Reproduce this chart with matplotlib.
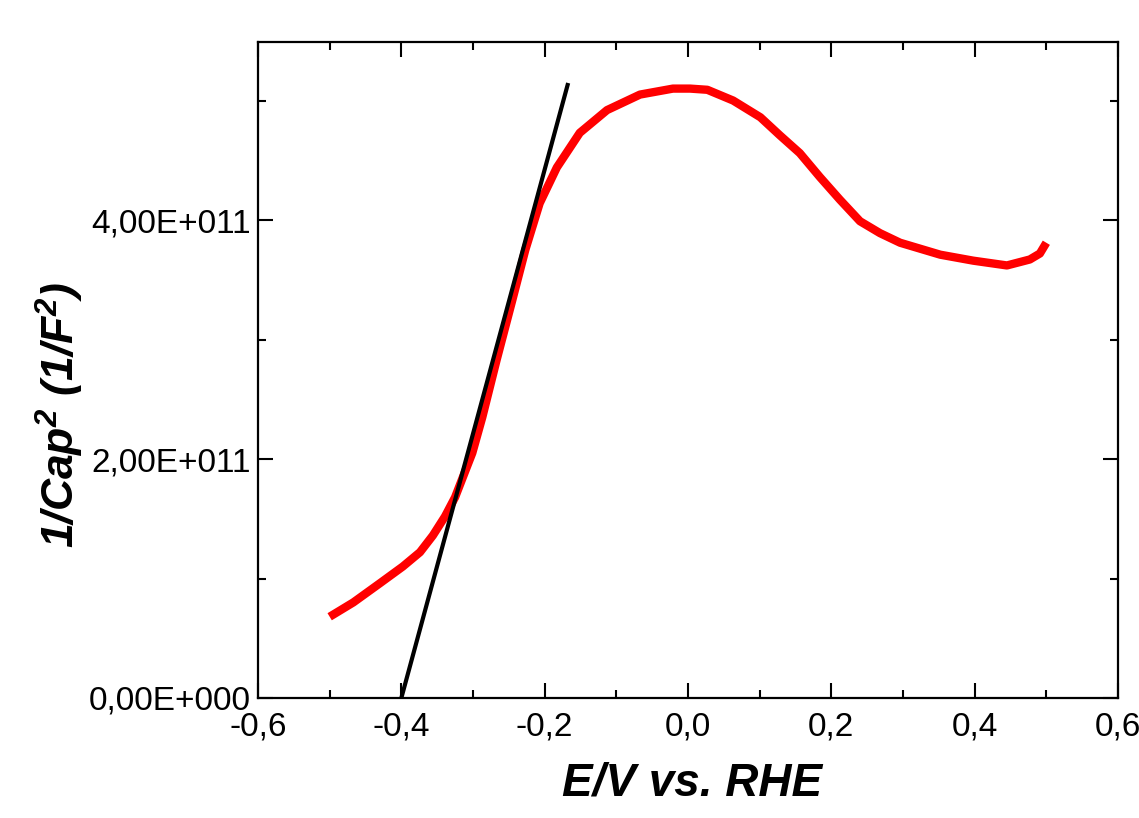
import matplotlib
matplotlib.use("Agg")
import matplotlib.pyplot as plt
from matplotlib.ticker import MultipleLocator, FuncFormatter

# measured curve, E vs RHE (V) and 1/C^2 (1/F^2)
potential = [-0.500, -0.467, -0.430, -0.398, -0.374, -0.356, -0.339, -0.325,
             -0.314, -0.301, -0.287, -0.267, -0.246, -0.227, -0.207, -0.183,
             -0.151, -0.113, -0.067, -0.021, 0.003, 0.027, 0.063, 0.101,
             0.128, 0.156, 0.184, 0.212, 0.240, 0.268, 0.296, 0.352, 0.398,
             0.445, 0.477, 0.491, 0.500]
inv_cap2 = [0.68e11, 0.80e11, 0.96e11, 1.10e11, 1.22e11, 1.36e11, 1.52e11,
            1.68e11, 1.85e11, 2.05e11, 2.35e11, 2.83e11, 3.31e11, 3.75e11,
            4.14e11, 4.44e11, 4.73e11, 4.92e11, 5.05e11, 5.10e11, 5.10e11,
            5.09e11, 5.00e11, 4.86e11, 4.71e11, 4.56e11, 4.36e11, 4.17e11,
            3.99e11, 3.89e11, 3.81e11, 3.71e11, 3.66e11, 3.62e11, 3.67e11,
            3.72e11, 3.81e11]

# Mott-Schottky linear fit
fit_x = [-0.400, -0.168]
fit_y = [0.0, 5.13e11]

plt.rcParams['font.family'] = ['Liberation Sans', 'DejaVu Sans']
plt.rcParams['mathtext.fontset'] = 'custom'
plt.rcParams['mathtext.bf'] = 'Liberation Sans:bold:italic'
plt.rcParams['mathtext.rm'] = 'Liberation Sans:bold:italic'

fig = plt.figure(figsize=(11.39, 8.18), dpi=100)
ax = fig.add_axes([258/1139, 1-698/818, 860/1139, 656/818])

ax.plot(potential, inv_cap2, color='#ff0000', lw=6, solid_capstyle='butt',
        solid_joinstyle='round', zorder=2)
ax.plot(fit_x, fit_y, color='black', lw=3, zorder=3)

ax.set_xlim(-0.6, 0.6)
ax.set_ylim(0, 5.49e11)

ax.xaxis.set_major_locator(MultipleLocator(0.2))
ax.xaxis.set_minor_locator(MultipleLocator(0.1))
ax.yaxis.set_major_locator(MultipleLocator(2e11))
ax.yaxis.set_minor_locator(MultipleLocator(1e11))

def xfmt(v, pos):
    return ("%.1f" % v).replace('.', ',')

def yfmt(v, pos):
    if abs(v) < 1:
        return "0,00E+000"
    exp = 0
    m = v
    while abs(m) >= 10:
        m /= 10
        exp += 1
    return ("%.2f" % m).replace('.', ',') + "E+%03d" % exp

ax.xaxis.set_major_formatter(FuncFormatter(xfmt))
ax.yaxis.set_major_formatter(FuncFormatter(yfmt))

ax.tick_params(which='both', direction='in', top=True, right=True, width=1.5,
               labelsize=24)
ax.tick_params(which='major', length=11)
ax.tick_params(which='minor', length=5.5)
ax.tick_params(axis='x', pad=10)
ax.tick_params(axis='y', pad=5)
for s in ax.spines.values():
    s.set_linewidth(1.6)

fig.text(692/1139, 1-783/818, "E/V vs. RHE", fontsize=33, fontweight='bold',
         fontstyle='italic', ha='center', va='center')
fig.text(60/1139, 1-415/818, r"1/Cap$^\mathbf{2}$ (1/F$^\mathbf{2}$)",
         fontsize=32, fontweight='bold', fontstyle='italic',
         ha='center', va='center', rotation=90)

fig.savefig("out.png", dpi=100)
